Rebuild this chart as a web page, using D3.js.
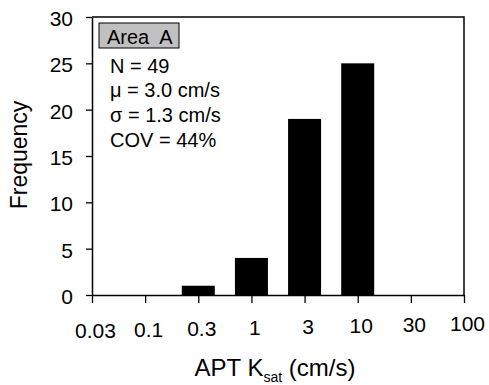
<!DOCTYPE html>
<html>
<head>
<meta charset="utf-8">
<script src="https://cdn.jsdelivr.net/npm/d3@7"></script>
<style>
  body { margin: 0; background: #fff; }
  svg { display: block; font-family: "Liberation Sans", Arial, sans-serif; }
</style>
</head>
<body>
<div id="chart-area"></div>
<script>
// data
let categories = ["0.03", "0.1", "0.3", "1", "3", "10", "30", "100"];
let counts = [0, 0, 1, 4, 19, 25, 0, 0];
let yTicks = [0, 5, 10, 15, 20, 25, 30];
let statLines = ["N = 49", "\u03bc = 3.0 cm/s", "\u03c3 = 1.3 cm/s", "COV = 44%"];

let margin = { left: 92, right: 25, top: 17, bottom: 90 };
let width = 489 - margin.left - margin.right,
	height = 385 - margin.top - margin.bottom;

let svg = d3.select("#chart-area")
	.append("svg")
	.attr("width", 489)
	.attr("height", 385);

let g = svg.append("g")
	.attr("transform", "translate(" + margin.left + "," + margin.top + ")");

// Scales
let x = d3.scalePoint()
	.domain(categories)
	.range([0, width]);

let y = d3.scaleLinear()
	.domain([0, 30])
	.range([height, 0]);

let barWidth = 33;

// frame (top and right)
g.append("path")
	.attr("d", "M0,0H" + width + "V" + height)
	.attr("fill", "none")
	.attr("stroke", "#000")
	.attr("stroke-width", 1.5);

// Bars
g.selectAll("rect.bar")
	.data(categories.map((c, i) => ({ cat: c, n: counts[i] })).filter(d => d.n > 0))
	.enter()
	.append("rect")
	.attr("class", "bar")
	.attr("x", d => x(d.cat) - barWidth / 2)
	.attr("y", d => y(d.n))
	.attr("width", barWidth)
	.attr("height", d => y(0) - y(d.n))
	.attr("fill", "#000");

// Y Axis
let yAxisCall = d3.axisLeft(y)
	.tickValues(yTicks)
	.tickSize(6)
	.tickPadding(13)
	.tickSizeOuter(0);
let yAxis = g.append("g")
	.attr("class", "y axis")
	.call(yAxisCall);

// X Axis
let xAxisCall = d3.axisBottom(x)
	.tickSize(8)
	.tickPadding(0)
	.tickSizeOuter(0);
let xAxis = g.append("g")
	.attr("class", "x axis")
	.attr("transform", "translate(0," + height + ")")
	.call(xAxisCall);

[xAxis, yAxis].forEach(a => {
	a.select(".domain").attr("stroke", "#000").attr("stroke-width", 1.5);
	a.selectAll(".tick line").attr("stroke", "#000").attr("stroke-width", 1.3);
	a.selectAll("text")
		.attr("font-family", "Liberation Sans, Arial, sans-serif")
		.attr("font-size", "21px")
		.attr("fill", "#000");
});

// x labels sit slightly lower on the left than on the right
xAxis.selectAll(".tick text")
	.attr("dy", null)
	.attr("y", (d, i) => 43 - i)
	.attr("dx", 3);

yAxis.selectAll(".tick text").attr("dy", "0.4em");

// Axis titles
let xLabel = g.append("text")
	.attr("x", width / 2 - 3)
	.attr("y", height + 81)
	.attr("font-size", "24px")
	.attr("text-anchor", "middle");
xLabel.append("tspan").text("APT K");
xLabel.append("tspan").attr("font-size", "14px").attr("dy", 6).text("sat");
xLabel.append("tspan").attr("dy", -6).text(" (cm/s)");

g.append("text")
	.attr("transform", "rotate(-90)")
	.attr("x", -(138))
	.attr("y", -65)
	.attr("font-size", "23px")
	.attr("text-anchor", "middle")
	.text("Frequency");

// Legend box
let box = g.append("g")
	.attr("transform", "translate(7,6)");

box.append("rect")
	.attr("width", 80)
	.attr("height", 25)
	.attr("fill", "#c0c0c0")
	.attr("stroke", "#000")
	.attr("stroke-width", 1);

box.append("text")
	.attr("x", 8)
	.attr("y", 21)
	.attr("font-size", "20px")
	.style("white-space", "pre")
	.text("Area  A");

statLines.forEach((line, i) => {
	g.append("text")
		.attr("x", 18)
		.attr("y", 55.5 + i * 24.8)
		.attr("font-size", "20px")
		.text(line);
});
</script>
</body>
</html>
